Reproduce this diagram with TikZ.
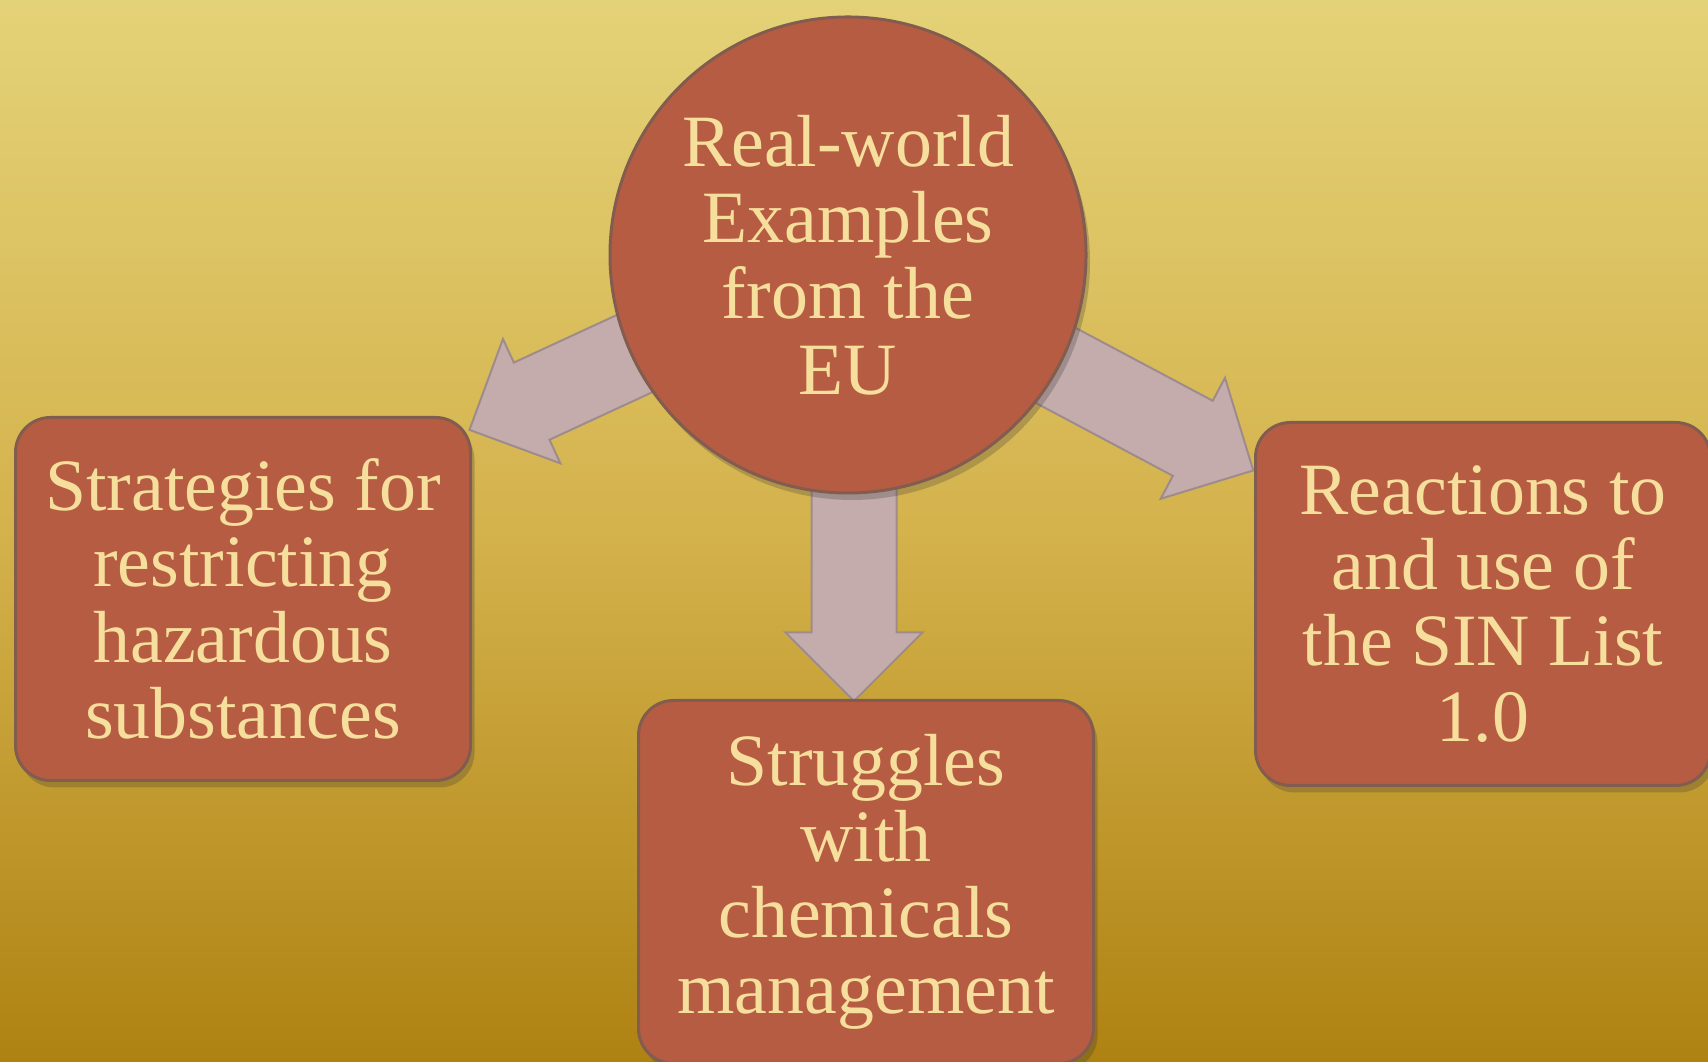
\documentclass[tikz,border=0pt]{standalone}
\usepackage{fontspec}
\setmainfont{Liberation Serif}
\usetikzlibrary{shapes.arrows,shadows,backgrounds}

\definecolor{brick}{RGB}{182,92,66}
\definecolor{brickline}{RGB}{130,92,78}
\definecolor{cream}{RGB}{246,222,156}
\definecolor{mauve}{RGB}{196,172,172}
\definecolor{mauveline}{RGB}{158,140,140}
\definecolor{goldtop}{RGB}{228,210,120}
\definecolor{goldmid}{RGB}{212,178,76}
\definecolor{goldbot}{RGB}{174,130,18}

\begin{document}
\begin{tikzpicture}[x=0.1mm, y=0.1mm,
    every node/.style={font=\fontsize{21}{21.6}\selectfont, text=cream, align=center},
    softshadow/.style={drop shadow={shadow xshift=0.4mm, shadow yshift=-0.7mm, opacity=0.25, fill=black!80}},
    hubcircle/.style={circle, draw=brickline, line width=0.3mm, fill=brick, minimum size=47.6mm, inner sep=0pt, softshadow},
    topicbox/.style={draw=brickline, line width=0.3mm, fill=brick, rounded corners=3.5mm, minimum width=45.5mm, minimum height=36.3mm, softshadow},
    bigarrow/.style={single arrow, draw=mauveline, fill=mauve, line width=0.2mm, single arrow head extend=2.6mm, inner xsep=0pt, inner ysep=4.15mm, anchor=tail}]
      \useasboundingbox (0,0) rectangle (1708,1062);
      \begin{scope}[on background layer]
        \shade[top color=goldtop, bottom color=goldbot, middle color=goldmid] (0,0) rectangle (1708,1062);
      \end{scope}

      \node[hubcircle] (hub) at (848,807) {Real-world\\Examples\\from the\\EU};
      \node[topicbox] (strat) at (243,463) {Strategies for\\restricting\\hazardous\\substances};
      \node[topicbox] (strug) at (866,180) {Struggles\\with\\chemicals\\management};
      \node[topicbox] (react) at (1483,458) {Reactions to\\and use of\\the SIN List\\1.0};

      \begin{scope}[on background layer]
        \node[bigarrow, rotate=204.8, minimum height=41.6mm] (tostrat) at (hub.center) {};
        \node[bigarrow, rotate=270, minimum height=44.5mm] (tostrug) at ([xshift=0.6mm]hub.center) {};
        \node[bigarrow, rotate=-28, minimum height=45.8mm] (toreact) at (hub.center) {};
      \end{scope}
    \end{tikzpicture}
\end{document}
